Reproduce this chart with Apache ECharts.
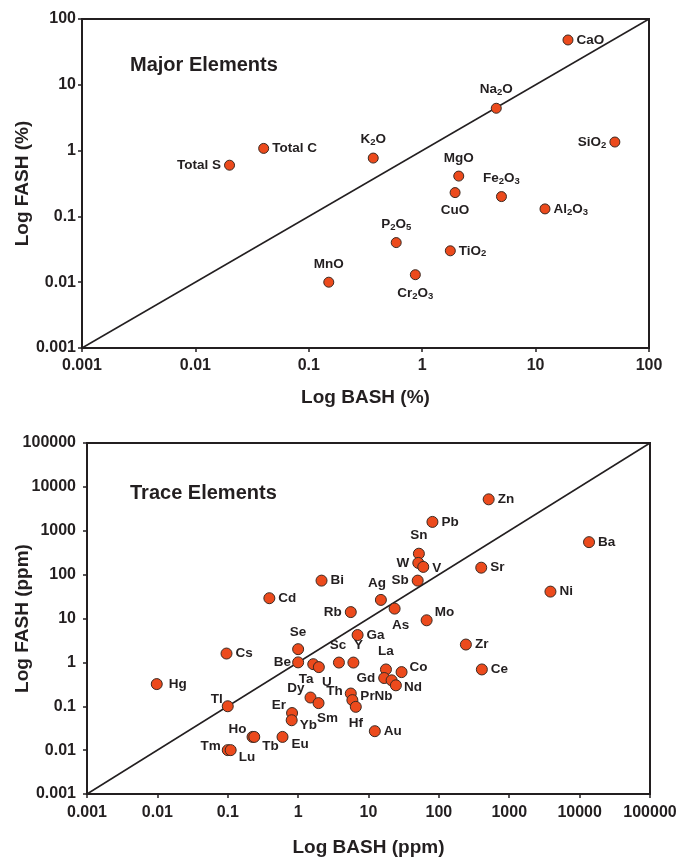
<!DOCTYPE html>
<html>
<head>
<meta charset="utf-8">
<script src="https://cdn.jsdelivr.net/npm/echarts@6/dist/echarts.min.js"></script>
<style>
  html, body { margin: 0; padding: 0; background: #fff; }
  #chart { width: 680px; height: 858px; }
</style>
</head>
<body>
<div id="chart"></div>
<script>
// major elements, % (BASH vs FASH)
const majorNames = ['CaO', 'Na2O', 'SiO2', 'K2O', 'MgO', 'CuO', 'Fe2O3', 'Al2O3', 'P2O5', 'TiO2', 'Cr2O3', 'MnO', 'Total C', 'Total S'];
const majorBash = [19.3, 4.5, 50, 0.37, 2.1, 1.95, 5.0, 12.1, 0.59, 1.77, 0.87, 0.15, 0.04, 0.02];
const majorFash = [48, 4.4, 1.35, 0.77, 0.41, 0.23, 0.2, 0.13, 0.04, 0.03, 0.013, 0.01, 1.08, 0.6];

// trace elements, ppm
const traceNames = ['Zn', 'Pb', 'Ba', 'Sn', 'W', 'V', 'Sr', 'Sb', 'Ni', 'Ag', 'As', 'Mo', 'Rb', 'Ga', 'Zr',
  'Ce', 'La', 'Co', 'Gd', 'Nb', 'Nd', 'Th', 'Pr', 'Hf', 'Au', 'Sc', 'Y', 'Se', 'Be', 'Ta', 'U', 'Dy', 'Sm',
  'Er', 'Yb', 'Bi', 'Cd', 'Cs', 'Hg', 'Tl', 'Ho', 'Tb', 'Eu', 'Tm', 'Lu'];
const traceBash = [510, 81, 13600, 52, 51, 60, 400, 50, 3850, 15, 23.5, 67, 5.6, 7.0, 242,
  408, 17.7, 29.5, 16.7, 21.3, 24.5, 5.6, 5.9, 6.6, 12.3, 3.8, 6.1, 1.0, 1.0, 1.64, 1.97, 1.5, 1.95,
  0.82, 0.81, 2.15, 0.39, 0.096, 0.0098, 0.1, 0.225, 0.238, 0.6, 0.1, 0.11];
const traceFash = [5200, 1590, 550, 300, 185, 150, 144, 73, 41, 26.5, 16.8, 9.1, 14, 4.2, 2.55,
  0.69, 0.69, 0.6, 0.44, 0.39, 0.30, 0.195, 0.138, 0.097, 0.027, 0.99, 0.99, 2.0, 1.0, 0.91, 0.78, 0.158, 0.118,
  0.07, 0.048, 73, 29, 1.59, 0.32, 0.1, 0.02, 0.02, 0.02, 0.01, 0.01];

const majorTicks = ['0.001', '0.01', '0.1', '1', '10', '100'];
const traceTicks = ['0.001', '0.01', '0.1', '1', '10', '100', '1000', '10000', '100000'];

// 1:1 lines
const majorDiag = [[0.001, 0.001], [100, 100]];
const traceDiag = [[0.001, 0.001], [100000, 100000]];

// where each label sits: [position, dx, dy]
const majorLabelAt = {
  'CaO': ['right'], 'Na2O': ['top'], 'SiO2': ['left'], 'K2O': ['top'], 'MgO': ['top'],
  'CuO': ['bottom'], 'Fe2O3': ['top'], 'Al2O3': ['right'], 'P2O5': ['top'], 'TiO2': ['right'],
  'Cr2O3': ['bottom'], 'MnO': ['top'], 'Total C': ['right'], 'Total S': ['left']
};
const traceLabelAt = {
  'Zn': ['right'], 'Pb': ['right'], 'Ba': ['right'], 'Sn': ['top'], 'W': ['left'], 'V': ['right', 0, 1],
  'Sr': ['right'], 'Sb': ['left'], 'Ni': ['right'], 'Ag': ['top', -4, 1], 'As': ['bottom', 6, -1],
  'Mo': ['right', -1, -8], 'Rb': ['left'], 'Ga': ['right'], 'Zr': ['right'], 'Ce': ['right'],
  'La': ['top'], 'Co': ['right', -1, -5], 'Gd': ['left'], 'Nb': ['bottom', -8, -2], 'Nd': ['right', -1, 2],
  'Th': ['left', 1, -2], 'Pr': ['right', -1, -4], 'Hf': ['bottom', 0, -2], 'Au': ['right'],
  'Sc': ['top', -1, 1], 'Y': ['top', 5, 1], 'Se': ['top', 0, 1], 'Be': ['left', 2, 0],
  'Ta': ['bottom', -7, -3], 'U': ['bottom', 8, -3], 'Dy': ['left', 3, -9], 'Sm': ['bottom', 9, -3],
  'Er': ['left', 3, -8], 'Yb': ['right', -1, 5], 'Bi': ['right'], 'Cd': ['right'], 'Cs': ['right'],
  'Hg': ['right', 3, 0], 'Tl': ['left', 4, -7], 'Ho': ['left', 3, -8], 'Tb': ['right', -1, 9],
  'Eu': ['right', 0, 7], 'Tm': ['left', 2, -4], 'Lu': ['right', -1, 7]
};

const ink = '#231f20';
const dotFill = '#ec4a1c';

function subscripts(name) {
  return name.replace(/(\d)/g, '{s|$1}');
}

function points(names, xs, ys, labelAt) {
  return names.map(function (n, i) {
    const p = labelAt[n] || ['right'];
    const isTB = p[0] === 'top' || p[0] === 'bottom';
    return {
      name: n,
      value: [xs[i], ys[i]],
      label: {
        position: p[0],
        offset: [p[1] || 0, p[2] || 0],
        distance: isTB ? 5 : 3
      }
    };
  });
}

const labelStyle = {
  show: true,
  color: ink,
  fontSize: 13.5,
  fontWeight: 'bold',
  formatter: function (p) { return subscripts(p.name); },
  rich: {
    s: { fontSize: 9.5, fontWeight: 'bold', color: ink, padding: [6, 0, 0, 0] }
  }
};

function logAxis(grid, min, max, split, ticks, name, nameGap, margin) {
  return {
    gridIndex: grid,
    type: 'log',
    logBase: 10,
    min: min,
    max: max,
    splitNumber: split,
    name: name,
    nameLocation: 'middle',
    nameGap: nameGap,
    nameMoveOverlap: false,
    nameTextStyle: { color: ink, fontSize: 19, fontWeight: 'bold' },
    axisLine: { show: true, onZero: false, lineStyle: { color: ink, width: 2 } },
    axisTick: { show: true, length: 4, lineStyle: { color: ink, width: 1.5 } },
    axisLabel: {
      color: ink, fontSize: 16, fontWeight: 'bold', margin: margin,
      formatter: function (v) { return ticks[Math.round(Math.log10(v)) + 3]; }
    },
    splitLine: { show: false },
    minorTick: { show: false }
  };
}

const chart = echarts.init(document.getElementById('chart'));
chart.setOption({
  animation: false,
  backgroundColor: '#fff',
  textStyle: { fontFamily: 'Liberation Sans, Arial, sans-serif' },
  title: [
    { text: 'Major Elements', left: 125, top: 50,
      textStyle: { color: ink, fontSize: 20, fontWeight: 'bold' } },
    { text: 'Trace Elements', left: 125, top: 478,
      textStyle: { color: ink, fontSize: 20, fontWeight: 'bold' } }
  ],
  grid: [
    { left: 82, top: 19, width: 567, height: 329, show: true, borderColor: ink, borderWidth: 2,
      containLabel: false, outerBoundsMode: 'none' },
    { left: 87, top: 443, width: 563, height: 351, show: true, borderColor: ink, borderWidth: 2,
      containLabel: false, outerBoundsMode: 'none' }
  ],
  xAxis: [
    logAxis(0, 0.001, 100, 5, majorTicks, 'Log BASH (%)', 40, 10),
    logAxis(1, 0.001, 100000, 8, traceTicks, 'Log BASH (ppm)', 44, 11)
  ],
  yAxis: [
    logAxis(0, 0.001, 100, 5, majorTicks, 'Log FASH (%)', 50, 6),
    logAxis(1, 0.001, 100000, 8, traceTicks, 'Log FASH (ppm)', 55, 11)
  ],
  series: [
    {
      type: 'line', xAxisIndex: 0, yAxisIndex: 0, data: majorDiag,
      symbol: 'none', lineStyle: { color: ink, width: 1.5 }, z: 1, silent: true
    },
    {
      type: 'scatter', xAxisIndex: 0, yAxisIndex: 0,
      data: points(majorNames, majorBash, majorFash, majorLabelAt),
      symbolSize: 10,
      itemStyle: { color: dotFill, opacity: 1, borderColor: '#3b2a22', borderWidth: 1 },
      label: labelStyle, z: 3
    },
    {
      type: 'line', xAxisIndex: 1, yAxisIndex: 1, data: traceDiag,
      symbol: 'none', lineStyle: { color: ink, width: 1.5 }, z: 1, silent: true
    },
    {
      type: 'scatter', xAxisIndex: 1, yAxisIndex: 1,
      data: points(traceNames, traceBash, traceFash, traceLabelAt),
      symbolSize: 11,
      itemStyle: { color: dotFill, opacity: 1, borderColor: '#3b2a22', borderWidth: 1 },
      label: labelStyle, z: 3
    }
  ]
});
</script>
</body>
</html>
